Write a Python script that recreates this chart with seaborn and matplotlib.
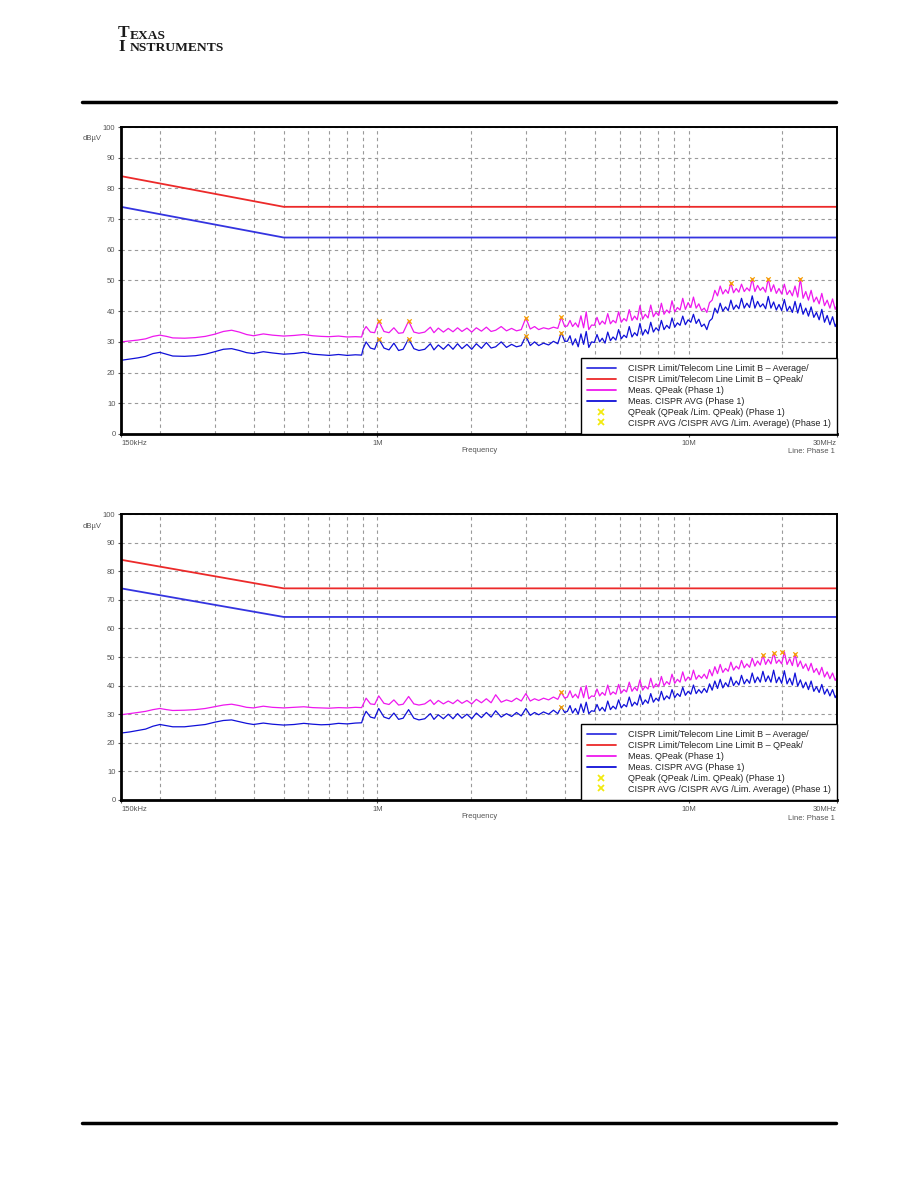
import numpy as np
import pandas as pd
import matplotlib
matplotlib.use("Agg")
import matplotlib.pyplot as plt
import seaborn as sns
from matplotlib.lines import Line2D
from matplotlib.ticker import FixedLocator, NullFormatter

# ---------------- data (frequency in MHz, level in dBuV) ----------------
F_LOW = [0.15, 0.16, 0.17, 0.18, 0.19, 0.20, 0.21, 0.22, 0.24, 0.26,
         0.28, 0.30, 0.32, 0.34, 0.36, 0.38, 0.40, 0.43, 0.46, 0.50,
         0.54, 0.58, 0.62, 0.66, 0.70, 0.75, 0.80, 0.85, 0.89]
F_MID = [0.90, 0.92, 0.95, 0.98, 1.01, 1.05, 1.09, 1.13, 1.17, 1.21,
         1.26, 1.31, 1.36, 1.42, 1.48, 1.52, 1.57, 1.63, 1.69, 1.75,
         1.81, 1.87, 1.94, 2.01, 2.08, 2.16, 2.24, 2.32, 2.40, 2.50,
         2.60, 2.70, 2.80, 2.90, 3.00, 3.10, 3.20, 3.30, 3.42, 3.55,
         3.68, 3.80, 3.90, 4.00]
F_HIGH = [4.08, 4.16, 4.24, 4.33, 4.42, 4.51, 4.60, 4.69, 4.78, 4.88,
          4.98, 5.08, 5.18, 5.28, 5.39, 5.50, 5.61, 5.72, 5.84, 5.96,
          6.08, 6.20, 6.32, 6.45, 6.58, 6.71, 6.84, 6.98, 7.12, 7.26,
          7.41, 7.56, 7.71, 7.86, 8.02, 8.18, 8.34, 8.51, 8.68, 8.85,
          9.03, 9.21, 9.39, 9.58, 9.77, 9.97, 10.17, 10.37, 10.58, 10.79,
          11.01, 11.23, 11.45, 11.68, 11.91, 12.15, 12.39, 12.64, 12.89, 13.15,
          13.41, 13.68, 13.95, 14.23, 14.51, 14.80, 15.10, 15.40, 15.71, 16.02,
          16.34, 16.67, 17.00, 17.34, 17.69, 18.04, 18.40, 18.77, 19.15, 19.53,
          19.92, 20.32, 20.73, 21.14, 21.56, 21.99, 22.43, 22.88, 23.34, 23.81,
          24.29, 24.77, 25.27, 25.77, 26.29, 26.81, 27.35, 27.90, 28.46, 29.03,
          29.61, 30.00]

# chart 1
QP1_LOW = [30.0, 30.3, 30.6, 31.0, 31.8, 32.2, 31.8, 31.3, 31.2, 31.4,
           31.8, 32.5, 33.4, 33.8, 33.2, 32.4, 32.0, 32.6, 32.2, 31.9,
           32.1, 32.4, 32.0, 31.8, 31.7, 31.9, 31.6, 31.7, 31.6]
AV1_LOW = [24.0, 24.4, 24.8, 25.3, 26.2, 26.6, 26.0, 25.4, 25.3, 25.5,
           26.0, 26.8, 27.6, 27.8, 27.2, 26.5, 26.2, 26.8, 26.4, 26.0,
           26.2, 26.6, 26.0, 25.8, 25.6, 25.9, 25.6, 25.8, 25.7]
QP1_MID = [33.5, 35.0, 33.2, 33.0, 36.8, 33.4, 33.0, 34.6, 32.8, 33.0,
           36.8, 33.2, 32.8, 33.2, 34.8, 33.0, 34.5, 33.2, 34.4, 33.3,
           34.6, 33.4, 34.5, 33.2, 34.6, 33.5, 34.8, 33.4, 33.8, 35.0,
           33.6, 34.4, 33.6, 34.0, 37.8, 34.2, 35.0, 34.0, 34.6, 34.2,
           34.8, 34.4, 38.0, 35.0]
AV1_MID = [27.8, 30.0, 28.0, 27.6, 31.0, 28.0, 27.4, 29.6, 27.2, 27.6,
           31.0, 27.8, 27.2, 27.6, 29.4, 27.4, 29.0, 27.6, 29.2, 27.6,
           29.4, 27.8, 29.2, 27.6, 29.4, 27.9, 29.8, 28.0, 28.4, 30.0,
           28.2, 29.2, 28.4, 28.8, 32.0, 28.8, 30.0, 28.8, 29.6, 29.0,
           30.2, 29.4, 33.0, 30.2]
QP1_HIGH = [35.2, 37.0, 35.0, 36.2, 34.8, 38.5, 34.6, 39.8, 34.0, 35.5,
            35.4, 38.0, 35.6, 36.8, 35.8, 39.2, 35.9, 37.0, 36.2, 39.8,
            36.4, 37.6, 36.8, 40.5, 37.0, 38.4, 37.2, 41.8, 37.4, 39.0,
            37.8, 42.0, 38.2, 39.6, 38.6, 42.6, 39.0, 40.4, 39.4, 43.4,
            39.8, 41.2, 40.4, 44.2, 40.6, 42.8, 41.2, 44.6, 41.0, 42.4,
            40.2, 41.0, 39.6, 42.8, 43.6, 46.8, 45.0, 48.2, 45.6, 47.0,
            45.8, 49.2, 46.0, 47.4, 46.2, 48.8, 46.4, 47.6, 46.6, 50.6,
            46.4, 48.4, 46.8, 47.8, 46.2, 50.6, 46.4, 48.6, 45.8, 47.4,
            45.6, 48.8, 45.4, 46.8, 45.0, 48.2, 44.6, 50.6, 44.2, 46.4,
            43.6, 46.8, 43.0, 44.6, 42.4, 45.8, 41.8, 43.6, 41.0, 44.0,
            40.6, 42.0]
AV1_HIGH = [30.2, 32.0, 29.0, 31.0, 28.4, 32.6, 29.2, 33.4, 28.2, 30.0,
            29.8, 32.4, 30.0, 31.2, 29.6, 33.2, 30.4, 31.6, 30.6, 34.0,
            31.0, 32.2, 31.4, 35.0, 31.6, 33.0, 32.0, 36.0, 32.2, 34.0,
            32.6, 36.4, 33.2, 34.6, 33.6, 37.0, 34.0, 35.4, 34.4, 37.8,
            34.8, 36.2, 35.4, 38.4, 35.6, 37.2, 36.4, 39.0, 36.0, 37.4,
            35.0, 35.8, 34.0, 36.8, 37.6, 41.0, 39.4, 42.6, 40.0, 41.4,
            40.2, 43.6, 40.6, 42.0, 40.8, 44.2, 41.0, 42.6, 41.2, 45.0,
            41.0, 43.2, 41.4, 42.4, 40.8, 44.8, 41.0, 43.0, 40.4, 42.2,
            40.2, 43.8, 40.0, 41.6, 39.6, 43.2, 39.4, 42.6, 39.0, 41.0,
            38.4, 41.4, 38.0, 39.6, 37.2, 40.6, 36.4, 38.6, 35.6, 38.2,
            35.0, 36.4]

# chart 2
QP2_LOW = [29.8, 30.2, 30.6, 31.0, 31.6, 32.0, 31.6, 31.3, 31.4, 31.6,
           32.0, 32.6, 33.2, 33.5, 33.0, 32.4, 32.2, 32.8, 32.4, 32.2,
           32.4, 32.6, 32.3, 32.2, 32.1, 32.3, 32.2, 32.4, 32.3]
AV2_LOW = [23.4, 23.8, 24.3, 24.8, 25.8, 26.4, 26.0, 25.6, 25.6, 26.0,
           26.4, 27.2, 27.8, 28.0, 27.4, 26.8, 26.4, 26.9, 26.5, 26.2,
           26.4, 26.8, 26.5, 26.3, 26.4, 26.8, 26.6, 26.9, 27.0]
QP2_MID = [33.4, 35.6, 33.6, 33.4, 36.4, 33.8, 33.4, 35.0, 33.2, 33.5,
           36.2, 33.6, 33.2, 33.6, 35.0, 33.4, 34.8, 33.6, 34.6, 33.7,
           35.0, 33.8, 34.8, 33.6, 35.2, 34.0, 35.4, 34.0, 36.8, 34.2,
           35.0, 34.4, 35.6, 34.6, 37.2, 34.6, 35.4, 34.8, 35.6, 35.0,
           36.0, 35.2, 37.6, 35.6]
AV2_MID = [28.8, 31.0, 29.0, 28.6, 32.0, 29.0, 28.4, 30.4, 28.2, 28.6,
           31.6, 28.6, 28.0, 28.4, 30.2, 28.2, 29.8, 28.4, 30.0, 28.4,
           30.2, 28.6, 30.0, 28.4, 30.4, 28.8, 30.6, 29.0, 31.2, 29.0,
           30.2, 29.2, 30.6, 29.4, 32.0, 29.6, 30.6, 29.8, 30.8, 30.0,
           31.4, 30.2, 32.6, 30.6]
QP2_HIGH = [36.0, 38.2, 35.8, 37.0, 35.6, 39.4, 35.8, 40.0, 35.4, 36.4,
            36.2, 38.8, 36.4, 37.6, 36.6, 40.2, 36.8, 37.8, 37.0, 40.4,
            37.4, 38.6, 37.8, 41.2, 38.0, 39.4, 38.2, 42.0, 38.4, 39.8,
            38.8, 42.6, 39.2, 40.6, 39.6, 43.2, 40.0, 41.4, 40.4, 44.0,
            40.8, 42.2, 41.2, 44.8, 41.6, 43.0, 42.0, 45.4, 42.2, 43.6,
            42.6, 44.0, 42.4, 45.6, 43.4, 46.6, 44.2, 47.4, 44.6, 46.0,
            45.0, 48.2, 45.4, 46.8, 45.8, 48.8, 46.2, 47.6, 46.4, 49.6,
            46.8, 48.6, 47.2, 50.6, 47.4, 49.2, 47.6, 51.4, 47.8, 49.0,
            47.6, 51.8, 47.4, 49.4, 47.0, 51.2, 46.6, 48.6, 46.0, 47.6,
            45.2, 47.8, 44.6, 46.0, 43.8, 46.4, 43.0, 44.8, 42.4, 44.4,
            41.8, 43.0]
AV2_HIGH = [31.0, 33.0, 30.4, 32.0, 30.0, 33.6, 30.6, 34.2, 30.2, 31.2,
            31.0, 33.4, 31.2, 32.4, 31.0, 34.6, 31.6, 32.8, 31.8, 35.0,
            32.2, 33.4, 32.6, 36.0, 32.8, 34.2, 33.2, 36.8, 33.4, 35.0,
            33.8, 37.2, 34.2, 35.6, 34.6, 38.0, 35.0, 36.4, 35.4, 38.6,
            35.8, 37.2, 36.2, 39.4, 36.6, 38.0, 37.0, 40.2, 37.2, 38.6,
            37.4, 39.0, 37.6, 40.6, 38.4, 41.6, 39.0, 42.2, 39.2, 41.0,
            39.6, 43.0, 40.0, 41.6, 40.2, 43.6, 40.6, 42.2, 40.8, 44.4,
            41.0, 43.0, 41.2, 45.0, 41.4, 43.4, 41.2, 45.4, 41.0, 43.0,
            40.8, 45.2, 40.6, 42.6, 40.2, 44.4, 39.8, 42.0, 39.2, 41.2,
            38.6, 41.6, 38.0, 39.6, 37.6, 40.4, 37.0, 38.8, 36.4, 38.6,
            35.8, 37.0]

# limit lines (CISPR Telecom line limit B)
LIM_F = [0.15, 0.50, 30.0]
LIM_QP = [84.0, 74.0, 74.0]
LIM_AV = [74.0, 64.0, 64.0]

# peak markers
MK1_QP_F = [1.01, 1.26, 3.00, 3.90, 13.68, 16.02, 18.04, 22.88]
MK1_QP_V = [36.8, 36.8, 37.8, 38.0, 49.2, 50.6, 50.6, 50.6]
MK1_AV_F = [1.01, 1.26, 3.00, 3.90]
MK1_AV_V = [31.0, 31.0, 32.0, 33.0]
MK2_QP_F = [3.90, 17.34, 18.77, 19.92, 21.99]
MK2_QP_V = [37.6, 50.6, 51.4, 51.8, 51.2]
MK2_AV_F = [3.90]
MK2_AV_V = [32.6]

XTICKS = [0.15, 1.0, 10.0, 30.0]
XTICK_LABELS = ["150kHz", "1M", "10M", "30MHz"]
XGRID = [0.2, 0.3, 0.4, 0.5, 0.6, 0.7, 0.8, 0.9, 2, 3, 4, 5, 6, 7, 8, 9, 20]
YTICKS = [0, 10, 20, 30, 40, 50, 60, 70, 80, 90, 100]

LEGEND_LABELS = ["CISPR Limit/Telecom Line Limit B \u2013 Average/",
                 "CISPR Limit/Telecom Line Limit B \u2013 QPeak/",
                 "Meas. QPeak (Phase 1)",
                 "Meas. CISPR AVG (Phase 1)",
                 "QPeak (QPeak /Lim. QPeak) (Phase 1)",
                 "CISPR AVG /CISPR AVG /Lim. Average) (Phase 1)"]

# ---------------- styling ----------------
sns.set_theme(style="white")
plt.rcParams['font.family'] = ['Liberation Sans', 'DejaVu Sans']

C_LIM_AV = "#3434e0"
C_LIM_QP = "#ec2a2a"
C_QP = "#ee18ee"
C_AV = "#1010d8"
C_MK = "#f5a000"
C_MK_LEG = "#f2ea10"
C_TXT = "#555555"
C_GRID = "#9a9a9a"

W, H = 918, 1188
fig = plt.figure(figsize=(W / 100, H / 100), dpi=100)


def make_df(low, mid, high):
    f = F_LOW + F_MID + F_HIGH
    v = low + mid + high
    n = min(len(f), len(v))
    return pd.DataFrame({"f": f[:n], "v": v[:n]})


def draw(ax, qp, av, mkq, mka):
    ax.set_xscale("log")
    lim = pd.DataFrame({"f": LIM_F, "qp": LIM_QP, "av": LIM_AV})
    sns.lineplot(data=lim, x="f", y="av", color=C_LIM_AV, lw=1.3, ax=ax,
                 estimator=None, sort=False, legend=False)
    sns.lineplot(data=lim, x="f", y="qp", color=C_LIM_QP, lw=1.3, ax=ax,
                 estimator=None, sort=False, legend=False)
    sns.lineplot(data=qp, x="f", y="v", color=C_QP, lw=0.9, ax=ax,
                 estimator=None, sort=False, legend=False)
    sns.lineplot(data=av, x="f", y="v", color=C_AV, lw=0.9, ax=ax,
                 estimator=None, sort=False, legend=False)
    sns.scatterplot(x=mkq[0], y=mkq[1], marker="x", color=C_MK, s=10,
                    linewidth=0.9, ax=ax, legend=False, zorder=5)
    sns.scatterplot(x=mka[0], y=mka[1], marker="x", color=C_MK, s=10,
                    linewidth=0.9, ax=ax, legend=False, zorder=5)

    ax.set_xlim(0.15, 30)
    ax.set_ylim(0, 100)
    ax.set_xlabel("")
    ax.set_ylabel("")
    ax.set_xticks(XTICKS)
    ax.set_xticklabels(XTICK_LABELS)
    ax.xaxis.set_minor_locator(FixedLocator(XGRID))
    ax.xaxis.set_minor_formatter(NullFormatter())
    ax.set_yticks(YTICKS)
    ax.set_yticklabels([str(v) for v in YTICKS])
    labs = ax.get_xticklabels()
    labs[0].set_ha("left")
    labs[-1].set_ha("right")
    ax.tick_params(axis="both", which="major", labelsize=5.5, colors=C_TXT,
                   length=2.5, width=0.8, pad=1.5, direction="out",
                   bottom=True, left=True)
    ax.tick_params(axis="x", which="minor", length=0)
    ax.grid(True, which="both", axis="x", ls=(0, (3, 3)), color=C_GRID, lw=0.8)
    ax.grid(True, which="major", axis="y", ls=(0, (3, 3)), color=C_GRID, lw=0.8)
    for s in ax.spines.values():
        s.set_color("black")
        s.set_linewidth(1.4)
    ax.spines["left"].set_linewidth(2.0)
    ax.spines["bottom"].set_linewidth(2.0)

    ax.annotate("dB\u00b5V", xy=(0, 1), xycoords="axes fraction", xytext=(-38, -12),
                textcoords="offset pixels", ha="left", va="center", fontsize=5.5,
                color=C_TXT)
    ax.annotate("Frequency", xy=(0.5, 0), xycoords="axes fraction", xytext=(0, -17),
                textcoords="offset pixels", ha="center", va="center", fontsize=5.5,
                color=C_TXT)
    ax.annotate("Line: Phase 1", xy=(1, 0), xycoords="axes fraction", xytext=(-2, -18),
                textcoords="offset pixels", ha="right", va="center", fontsize=5.5,
                color=C_TXT)

    handles = [Line2D([], [], color=C_LIM_AV, lw=1.3),
               Line2D([], [], color=C_LIM_QP, lw=1.3),
               Line2D([], [], color=C_QP, lw=1.3),
               Line2D([], [], color=C_AV, lw=1.3),
               Line2D([], [], ls="none", marker="x", color=C_MK_LEG, ms=3.8, mew=1.3),
               Line2D([], [], ls="none", marker="x", color=C_MK_LEG, ms=3.8, mew=1.3)]
    leg = ax.legend(handles, LEGEND_LABELS, loc="lower right", bbox_to_anchor=(1, 0),
                    borderaxespad=0, frameon=True, fancybox=False, framealpha=1,
                    edgecolor="black", fontsize=6.5, handlelength=3.2,
                    handletextpad=1.3, labelspacing=0.2, borderpad=0.72)
    leg.get_frame().set_linewidth(1.0)
    for t in leg.get_texts():
        t.set_color("#222222")


ax1 = fig.add_axes([121 / W, 1 - 434 / H, 716 / W, 307 / H])
draw(ax1, make_df(QP1_LOW, QP1_MID, QP1_HIGH), make_df(AV1_LOW, AV1_MID, AV1_HIGH),
     (MK1_QP_F, MK1_QP_V), (MK1_AV_F, MK1_AV_V))
ax2 = fig.add_axes([121 / W, 1 - 800 / H, 716 / W, 286 / H])
draw(ax2, make_df(QP2_LOW, QP2_MID, QP2_HIGH), make_df(AV2_LOW, AV2_MID, AV2_HIGH),
     (MK2_QP_F, MK2_QP_V), (MK2_AV_F, MK2_AV_V))

# page header / footer
fig.add_artist(Line2D([82 / W, 836 / W], [1 - 102 / H] * 2, color="black", lw=2.5))
fig.add_artist(Line2D([82 / W, 836 / W], [1 - 1123 / H] * 2, color="black", lw=2.5))
serif = ["Liberation Serif", "DejaVu Serif"]
fig.text(118 / W, 1 - 51 / H, "T\nI", fontsize=12.5, family=serif, weight="bold",
         color="#1a1a1a", va="baseline", linespacing=0.82)
fig.text(130 / W, 1 - 51 / H, "EXAS\nNSTRUMENTS", fontsize=9.7, family=serif,
         weight="bold", color="#1a1a1a", va="baseline", linespacing=1.05)

fig.savefig("out.png", dpi=100, facecolor="white")
